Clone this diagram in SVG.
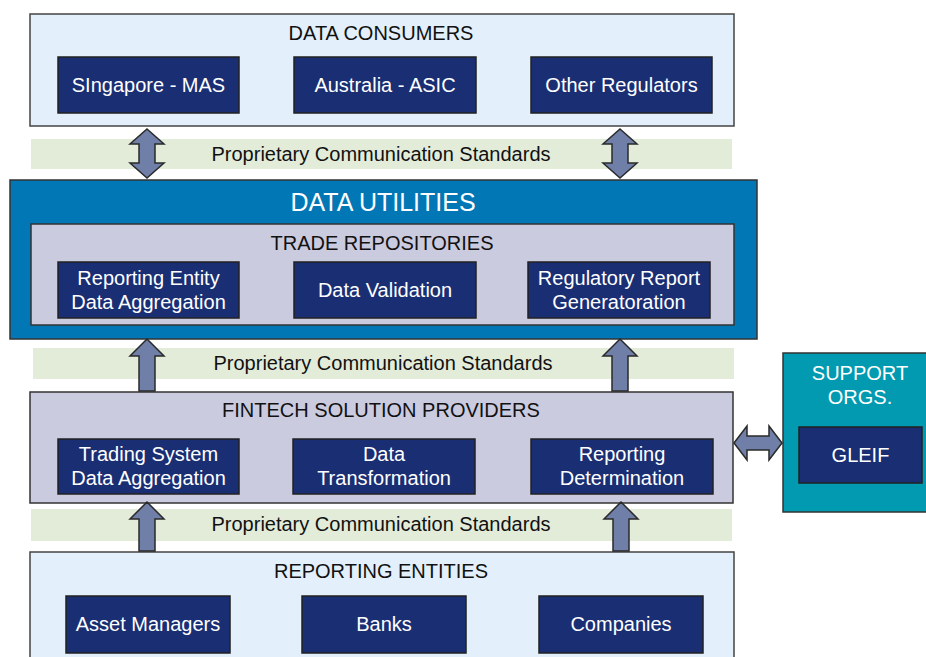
<svg xmlns="http://www.w3.org/2000/svg" width="926" height="657" viewBox="0 0 926 657">
<style>
text{font-family:"Liberation Sans",Arial,sans-serif;text-anchor:middle}
.panel{fill:#E3EFFB;stroke:#444;stroke-width:1.5}
.lav{fill:#CBCBE0;stroke:#333;stroke-width:1.5}
.sub{fill:#1A2E73;stroke:#222;stroke-width:1.5}
.band{fill:#E2ECD9}
.arrow{fill:#6F7FA8;stroke:#2A2A2A;stroke-width:1.5;stroke-linejoin:miter}
.h{font-size:20px;fill:#111}
.w{font-size:20px;fill:#fff}
</style>
<rect width="926" height="657" fill="#fff"/>
<g id="bands">
<rect class="band" x="31" y="139" width="701" height="30"/>
<text class="h" x="381" y="161">Proprietary Communication Standards</text>
<rect class="band" x="33" y="348" width="701" height="31"/>
<text class="h" x="383" y="370">Proprietary Communication Standards</text>
<rect class="band" x="31" y="509" width="701" height="32"/>
<text class="h" x="381" y="531">Proprietary Communication Standards</text>
</g>
<g id="data-consumers">
<rect class="panel" x="30" y="14" width="704" height="112"/>
<text class="h" x="381" y="40">DATA CONSUMERS</text>
<g id="singapore"><rect class="sub" x="58" y="57" width="181" height="56"/><text class="w" x="148.5" y="92">SIngapore - MAS</text></g>
<g id="australia"><rect class="sub" x="294" y="57" width="182" height="56"/><text class="w" x="385" y="92">Australia - ASIC</text></g>
<g id="other-regulators"><rect class="sub" x="531" y="57" width="181" height="56"/><text class="w" x="621.5" y="92">Other Regulators</text></g>
</g>
<g id="data-utilities">
<rect x="10" y="180" width="747" height="159" fill="#0277B5" stroke="#333" stroke-width="1.5"/>
<text x="383" y="211" style="font-size:25px;fill:#fff">DATA UTILITIES</text>
<g id="trade-repositories">
<rect class="lav" x="31" y="224" width="703" height="101"/>
<text class="h" x="382" y="250">TRADE REPOSITORIES</text>
<g id="reporting-entity-agg"><rect class="sub" x="58" y="262" width="181" height="56"/><text class="w" x="148.5" y="285">Reporting Entity</text><text class="w" x="148.5" y="309">Data Aggregation</text></g>
<g id="data-validation"><rect class="sub" x="294" y="262" width="182" height="56"/><text class="w" x="385" y="297">Data Validation</text></g>
<g id="regulatory-report"><rect class="sub" x="528" y="262" width="182" height="56"/><text class="w" x="619" y="285">Regulatory Report</text><text class="w" x="619" y="309">Generatoration</text></g>
</g>
</g>
<g id="fintech">
<rect class="lav" x="30" y="392" width="703" height="111"/>
<text class="h" x="381" y="417">FINTECH SOLUTION PROVIDERS</text>
<g id="trading-system"><rect class="sub" x="58" y="439" width="181" height="55"/><text class="w" x="148.5" y="461">Trading System</text><text class="w" x="148.5" y="485">Data Aggregation</text></g>
<g id="data-transformation"><rect class="sub" x="293" y="439" width="182" height="55"/><text class="w" x="384" y="461">Data</text><text class="w" x="384" y="485">Transformation</text></g>
<g id="reporting-determination"><rect class="sub" x="531" y="439" width="182" height="55"/><text class="w" x="622" y="461">Reporting</text><text class="w" x="622" y="485">Determination</text></g>
</g>
<g id="reporting-entities">
<rect class="panel" x="30" y="552" width="704" height="110"/>
<text class="h" x="381" y="578">REPORTING ENTITIES</text>
<g id="asset-managers"><rect class="sub" x="66" y="596" width="164" height="57"/><text class="w" x="148" y="631">Asset Managers</text></g>
<g id="banks"><rect class="sub" x="302" y="596" width="164" height="57"/><text class="w" x="384" y="631">Banks</text></g>
<g id="companies"><rect class="sub" x="539" y="596" width="164" height="57"/><text class="w" x="621" y="631">Companies</text></g>
</g>
<g id="support-orgs">
<rect x="783" y="353" width="150" height="159" fill="#029AB0" stroke="#333" stroke-width="1.5"/>
<text class="w" x="860" y="380">SUPPORT</text>
<text class="w" x="860" y="404">ORGS.</text>
<g id="gleif"><rect class="sub" x="799" y="427" width="123" height="56"/><text class="w" x="860.5" y="462">GLEIF</text></g>
</g>
<g id="connectors">
<path class="arrow" d="M147,129 L164,144 L155,144 L155,163 L164,163 L147,178 L130,163 L139,163 L139,144 L130,144 Z"/>
<path class="arrow" d="M620,129 L637,144 L628,144 L628,163 L637,163 L620,178 L603,163 L612,163 L612,144 L603,144 Z"/>
<path class="arrow" d="M147,339 L164,356 L155,356 L155,391 L139,391 L139,356 L130,356 Z"/>
<path class="arrow" d="M620,339 L637,356 L628,356 L628,391 L612,391 L612,356 L603,356 Z"/>
<path class="arrow" d="M147,502 L164,519 L155,519 L155,551 L139,551 L139,519 L130,519 Z"/>
<path class="arrow" d="M621,502 L638,519 L629,519 L629,551 L613,551 L613,519 L604,519 Z"/>
<path class="arrow" d="M734,443 L747,426 L747,436 L769,436 L769,426 L782,443 L769,460 L769,450 L747,450 L747,460 Z"/>
</g>
</svg>
